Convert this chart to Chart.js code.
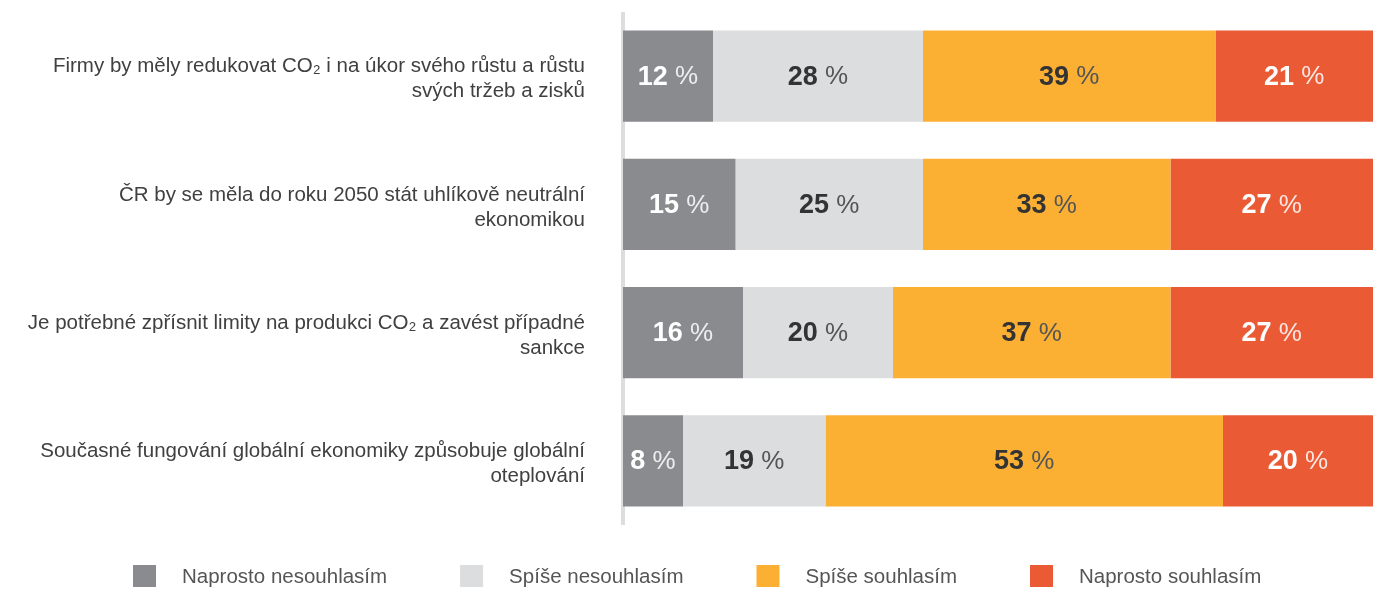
<!DOCTYPE html>
<html>
<head>
<meta charset="utf-8">
<script src="https://cdn.jsdelivr.net/npm/chart.js@4"></script>
<style>
html,body{margin:0;padding:0;background:#fff;}
#wrap{width:1373px;height:590px;position:relative;}
</style>
</head>
<body>
<div id="wrap"><canvas id="c"></canvas></div>
<script>
const categories = [
  ["Firmy by měly redukovat CO₂ i na úkor svého růstu a růstu", "svých tržeb a zisků"],
  ["ČR by se měla do roku 2050 stát uhlíkově neutrální", "ekonomikou"],
  ["Je potřebné zpřísnit limity na produkci CO₂ a zavést případné", "sankce"],
  ["Současné fungování globální ekonomiky způsobuje globální", "oteplování"]
];
const seriesNames = ["Naprosto nesouhlasím", "Spíše nesouhlasím", "Spíše souhlasím", "Naprosto souhlasím"];
const naprostoNesouhlasim = [12, 15, 16, 8];
const spiseNesouhlasim = [28, 25, 20, 19];
const spiseSouhlasim = [39, 33, 37, 53];
const naprostoSouhlasim = [21, 27, 27, 20];

const colors = ["#8a8b8e", "#dcdddf", "#fbb034", "#ea5a35"];
const numColors = ["#ffffff", "#333333", "#333333", "#ffffff"];
const pctColors = ["rgba(255,255,255,0.85)", "#555555", "#555555", "rgba(255,255,255,0.85)"];
const FONT = "'Liberation Sans', Arial, Helvetica, sans-serif";

const axisLinePlugin = {
  id: 'axisLine',
  beforeDatasetsDraw(chart) {
    const {ctx, chartArea} = chart;
    ctx.save();
    ctx.strokeStyle = '#dcdddf';
    ctx.lineWidth = 4;
    ctx.beginPath();
    ctx.moveTo(chartArea.left, chartArea.top);
    ctx.lineTo(chartArea.left, chartArea.bottom);
    ctx.stroke();
    ctx.restore();
  }
};

const valueLabelPlugin = {
  id: 'valueLabels',
  afterDatasetsDraw(chart) {
    const {ctx} = chart;
    ctx.save();
    ctx.textBaseline = 'middle';
    chart.data.datasets.forEach((ds, di) => {
      const meta = chart.getDatasetMeta(di);
      meta.data.forEach((bar, i) => {
        const v = ds.data[i];
        const cx = (bar.base + bar.x) / 2;
        const cy = bar.y + 1;
        const numTxt = String(v);
        const pctTxt = ' %';
        ctx.font = "bold 27px " + FONT;
        const w1 = ctx.measureText(numTxt).width;
        ctx.font = "26px " + FONT;
        const w2 = ctx.measureText(pctTxt).width;
        const start = cx - (w1 + w2) / 2;
        ctx.textAlign = 'left';
        ctx.font = "bold 27px " + FONT;
        ctx.fillStyle = numColors[di];
        ctx.fillText(numTxt, start, cy);
        ctx.font = "26px " + FONT;
        ctx.fillStyle = pctColors[di];
        ctx.fillText(pctTxt, start + w1, cy);
      });
    });
    ctx.restore();
  }
};

const legendPlugin = {
  id: 'customLegend',
  afterDraw(chart) {
    const {ctx} = chart;
    ctx.save();
    ctx.font = "20.5px " + FONT;
    ctx.textBaseline = 'middle';
    ctx.textAlign = 'left';
    let x = 133;
    const boxW = 23, boxH = 22, boxY = 565, gap = 26, pad = 73;
    chart.data.datasets.forEach((ds, di) => {
      ctx.fillStyle = ds.backgroundColor;
      ctx.fillRect(x, boxY, boxW, boxH);
      ctx.fillStyle = '#555555';
      ctx.fillText(ds.label, x + boxW + gap, boxY + boxH / 2 + 1);
      x += boxW + gap + ctx.measureText(ds.label).width + pad;
    });
    ctx.restore();
  }
};

const seriesData = [naprostoNesouhlasim, spiseNesouhlasim, spiseSouhlasim, naprostoSouhlasim];

new Chart(document.getElementById('c'), {
  type: 'bar',
  data: {
    labels: categories,
    datasets: seriesData.map((d, i) => ({
      label: seriesNames[i],
      data: d,
      backgroundColor: colors[i],
      borderWidth: 0,
      barPercentage: 0.71,
      categoryPercentage: 1
    }))
  },
  options: {
    indexAxis: 'y',
    responsive: true,
    maintainAspectRatio: false,
    animation: false,
    layout: {padding: {top: 12, bottom: 65, left: 0, right: 0}},
    plugins: {
      legend: {display: false},
      tooltip: {enabled: false}
    },
    scales: {
      x: {
        stacked: true,
        display: false,
        min: 0,
        max: 100
      },
      y: {
        stacked: true,
        grid: {display: false, drawTicks: false},
        border: {display: false},
        ticks: {
          padding: 38,
          labelOffset: 3,
          color: '#404040',
          font: {family: FONT, size: 20.5, lineHeight: 1.22}
        },
        afterFit(scale) {
          scale.width = 623;
          scale.paddingTop = 0;
          scale.paddingBottom = 0;
        }
      }
    }
  },
  plugins: [axisLinePlugin, valueLabelPlugin, legendPlugin]
});
</script>
</body>
</html>
